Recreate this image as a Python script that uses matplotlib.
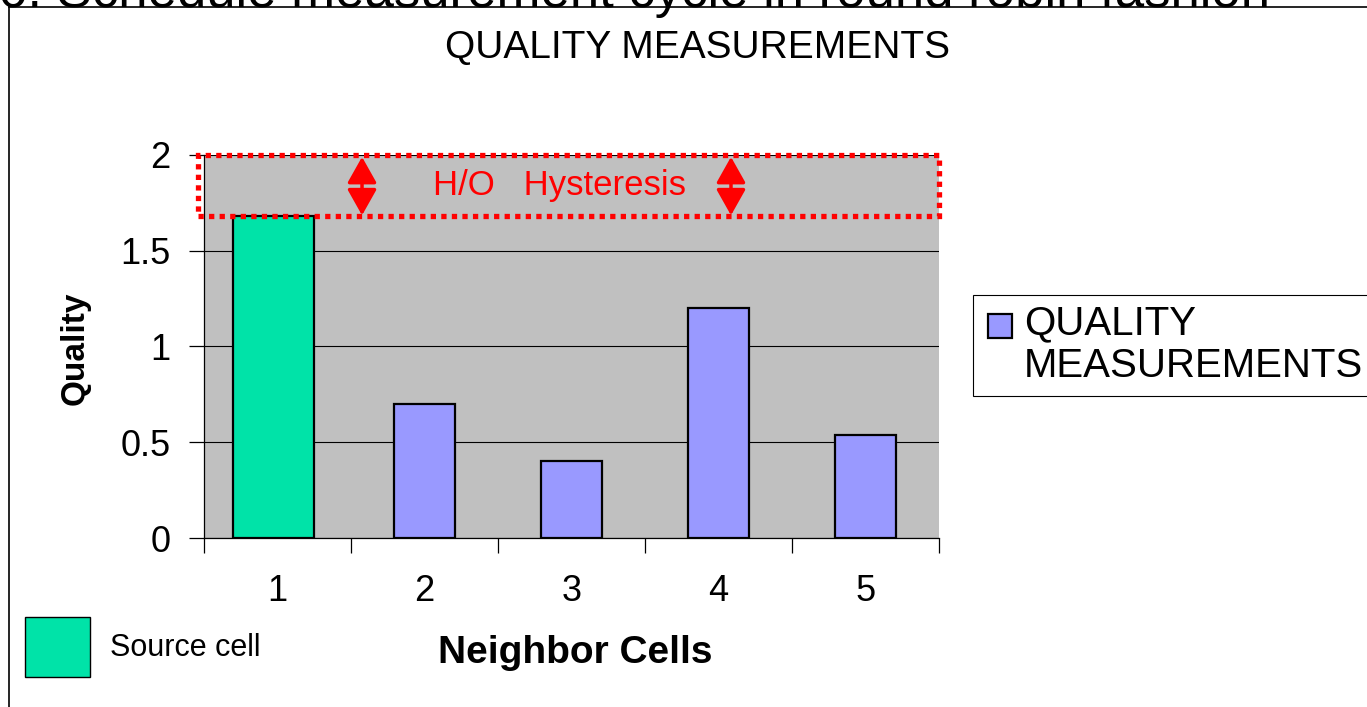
import matplotlib
matplotlib.use('Agg')
import matplotlib.pyplot as plt
from matplotlib.patches import Rectangle
from matplotlib.lines import Line2D
import numpy as np

# ---- data ----
categories = ['1', '2', '3', '4', '5']
quality = [1.68, 0.70, 0.40, 1.20, 0.54]
ytick_values = [0, 0.5, 1, 1.5, 2]
ytick_labels = ['0', '0.5', '1', '1.5', '2']
hyst_low = 1.68
hyst_high = 2.0
arrow_positions = [0.575, 3.085]

W, H = 1367, 707
plt.rcParams['font.family'] = ['Liberation Sans', 'DejaVu Sans']
fig = plt.figure(figsize=(W / 100, H / 100), dpi=100)

def fx(px):
    return px / W

def fy(py):
    return 1 - py / H

NARROW = ['Liberation Sans Narrow', 'Liberation Sans', 'DejaVu Sans']
GREEN = '#00E3A8'
PURPLE = '#9999FF'

ax = fig.add_axes([fx(204), fy(538), (939 - 204) / W, (538 - 155) / H])
ax.set_facecolor('#C0C0C0')
ax.set_axisbelow(True)

x = np.arange(len(categories))
widths = [0.55, 0.41, 0.41, 0.41, 0.41]
offsets = np.array([-0.03, 0, 0, 0, 0])
colors = [GREEN] + [PURPLE] * 4
ax.bar(x + offsets, quality, width=widths, color=colors, edgecolor='black',
       linewidth=1.6, zorder=3)

ax.set_xlim(-0.5, len(categories) - 0.5)
ax.set_ylim(0, 2)
ax.set_yticks(ytick_values)
ax.set_yticklabels(ytick_labels, fontsize=26)
ax.yaxis.grid(True, color='black', linewidth=0.8)
ax.tick_params(axis='y', direction='out', length=11, width=0.9, pad=13)

ax.set_xticks(np.arange(-0.5, len(categories), 1))
ax.set_xticklabels([''] * (len(categories) + 1))
ax.set_xticks(x, minor=True)
ax.set_xticklabels(categories, minor=True, fontsize=26)
ax.tick_params(axis='x', which='major', direction='out', length=11, width=0.9)
ax.tick_params(axis='x', which='minor', length=0, pad=26)

for s in ['top', 'right']:
    ax.spines[s].set_visible(False)
for s in ['left', 'bottom']:
    ax.spines[s].set_color('black')
    ax.spines[s].set_linewidth(0.9)

# hysteresis box
rect = Rectangle((-0.54, hyst_low), len(categories) - 0.5 + 0.54, hyst_high - hyst_low,
                 fill=False, edgecolor='red', linewidth=3.8, linestyle=(0, (1, 1)),
                 clip_on=False, zorder=6)
ax.add_patch(rect)
for xa in arrow_positions:
    ax.annotate('', xy=(xa, hyst_low + 0.005), xytext=(xa, hyst_high - 0.01),
                arrowprops=dict(arrowstyle='<|-|>,head_length=0.8,head_width=0.45',
                                mutation_scale=20, lw=2.5, color='red',
                                shrinkA=0, shrinkB=0),
                zorder=7)
ax.text(1.92, (hyst_low + hyst_high) / 2, 'H/O   Hysteresis', color='red',
        ha='center', va='center', fontsize=25, family=NARROW, zorder=7)

# titles and labels
fig.text(fx(697), fy(48), 'QUALITY MEASUREMENTS', ha='center', va='center', fontsize=28)
fig.text(fx(75), fy(348), 'Quality', rotation=90, ha='center', va='center',
         fontsize=24, fontweight='bold')
fig.text(fx(575), fy(653), 'Neighbor Cells', ha='center', va='center',
         fontsize=28, fontweight='bold')

# source cell key
fig.add_artist(Rectangle((fx(25), fy(677)), 65 / W, 60 / H, facecolor=GREEN,
                         edgecolor='black', linewidth=1.0, transform=fig.transFigure))
fig.text(fx(110), fy(648), 'Source cell', ha='left', va='center', fontsize=22, family=NARROW)

# legend box
fig.add_artist(Rectangle((fx(973), fy(396)), (1420 - 973) / W, (396 - 295) / H,
                         facecolor='white', edgecolor='black', linewidth=0.8,
                         transform=fig.transFigure))
fig.add_artist(Rectangle((fx(988), fy(338)), 24 / W, 24 / H, facecolor=PURPLE,
                         edgecolor='black', linewidth=1.6, transform=fig.transFigure))
fig.text(fx(1024), fy(323), 'QUALITY', ha='left', va='center', fontsize=29)
fig.text(fx(1024), fy(366), 'MEASUREMENTS', ha='left', va='center', fontsize=29)

# frame lines
fig.add_artist(Line2D([fx(9), fx(9)], [fy(707), fy(7)], color='black', lw=1.2,
                      transform=fig.transFigure))
fig.add_artist(Line2D([fx(9), fx(1367)], [fy(7), fy(7)], color='black', lw=1.2,
                      transform=fig.transFigure))

# clipped slide text above
fig.text(fx(1270), fy(7), '6. Schedule measurement cycle in round robin fashion',
         ha='right', va='baseline', fontsize=38)

fig.savefig('out.png', dpi=100)
